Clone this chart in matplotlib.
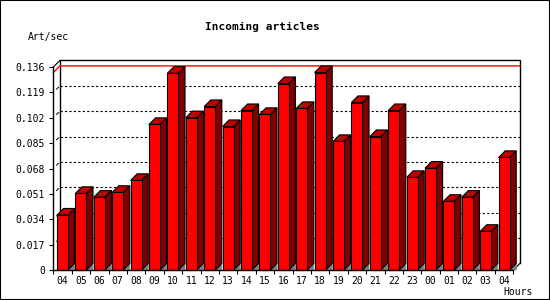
import matplotlib
matplotlib.use("Agg")
import matplotlib.pyplot as plt
from matplotlib.patches import Polygon, Rectangle

hours = ["04", "05", "06", "07", "08", "09", "10", "11", "12", "13", "14", "15",
         "16", "17", "18", "19", "20", "21", "22", "23", "00", "01", "02", "03", "04"]
values = [0.0368, 0.0513, 0.0488, 0.0520, 0.0600, 0.0975, 0.1318, 0.1020, 0.1095,
          0.0961, 0.1068, 0.1042, 0.1249, 0.1082, 0.1323, 0.0861, 0.1122, 0.0894,
          0.1068, 0.0620, 0.0682, 0.0460, 0.0488, 0.0259, 0.0754]
yticks = [0, 0.017, 0.034, 0.051, 0.068, 0.085, 0.102, 0.119, 0.136]
ytick_labels = ["0", "0.017", "0.034", "0.051", "0.068", "0.085", "0.102", "0.119", "0.136"]
title = "Incoming articles"
ylabel = "Art/sec"
xlabel = "Hours"

FONT = "DejaVu Sans Mono"
W, H = 550, 300
fig = plt.figure(figsize=(W / 100, H / 100), dpi=100)
fig.patch.set_facecolor("white")

# front plotting area in pixels
L, R, T, B = 53.3, 513.3, 67.0, 270.0
ax = fig.add_axes([L / W, 1 - B / H, (R - L) / W, (B - T) / H])
ax.set_facecolor("none")
n = len(values)
ymax = yticks[-1]
ax.set_xlim(-0.5, n - 0.5)
ax.set_ylim(0, ymax)

DEPTH = 6.6
DX = DEPTH / ((R - L) / n)
DY = DEPTH * ymax / (B - T)
BW = 0.6

# back plane grid (dotted)
for t in yticks[1:-1]:
    ax.plot([-0.5 + DX, n - 0.5 + DX], [t + DY, t + DY], color="black",
            lw=0.8, linestyle=(0, (2, 2)), clip_on=False, zorder=1)
    # short tick connectors
    ax.plot([-0.5 + DX * 0.5, -0.5 + DX * 0.8], [t + DY * 0.5, t + DY * 0.8],
            color="black", lw=0.7, clip_on=False, zorder=1)
# back frame
ax.plot([-0.5 + DX, -0.5 + DX, n - 0.5 + DX, n - 0.5 + DX],
        [DY, ymax + DY, ymax + DY, DY], color="black", lw=1.0, clip_on=False, zorder=1)
ax.plot([-0.5, -0.5 + DX], [ymax, ymax + DY], color="black", lw=0.8, clip_on=False, zorder=1)
ax.plot([n - 0.5, n - 0.5 + DX], [0, DY], color="black", lw=0.8, clip_on=False, zorder=1)
# max line
vmax = max(values)
ax.plot([-0.5, -0.5 + DX, n - 0.5 + DX], [vmax, vmax + DY, vmax + DY],
        color="#ff0000", lw=1.0, clip_on=False, zorder=1.5)

# floor triangle beyond last bar region handled per bar
for i, v in enumerate(values):
    x0, x1 = i - BW / 2, i + BW / 2
    ec = dict(edgecolor="black", linewidth=0.8, clip_on=False, zorder=3 + i * 0.01)
    ax.add_patch(Polygon([(x1, 0), (x1 + DX, DY), (x1 + DX, 0)], closed=True,
                         facecolor="#808080", edgecolor="#808080", linewidth=0.5,
                         clip_on=False, zorder=2.5))
    ax.add_patch(Polygon([(x1, 0), (x1 + DX, DY), (x1 + DX, v + DY), (x1, v)],
                         closed=True, facecolor="#800000", **ec))
    ax.add_patch(Polygon([(x0, v), (x0 + DX, v + DY), (x1 + DX, v + DY), (x1, v)],
                         closed=True, facecolor="#c00000", **ec))
    ax.add_patch(Rectangle((x0, 0), BW, v, facecolor="#ff0000", **ec))

# axes styling
for s in ["top", "right"]:
    ax.spines[s].set_visible(False)
for s in ["left", "bottom"]:
    ax.spines[s].set_linewidth(1.0)
    ax.spines[s].set_zorder(10)
ax.set_yticks(yticks)
ax.set_yticklabels(ytick_labels, fontfamily=FONT, fontsize=7)
ax.tick_params(axis="y", direction="out", length=3, width=0.8, pad=3)
ax.set_xticks(range(n))
ax.set_xticklabels(hours, fontfamily=FONT, fontsize=7)
ax.tick_params(axis="x", which="major", length=0, pad=4)
ax.set_xticks([i - 0.5 for i in range(n + 1)], minor=True)
ax.tick_params(axis="x", which="minor", direction="out", length=3, width=0.8)

fig.text(262 / W, 1 - 27 / H, title, ha="center", va="center",
         fontfamily=FONT, fontsize=8, fontweight="bold")
fig.text(28 / W, 1 - 37 / H, ylabel, ha="left", va="center", fontfamily=FONT, fontsize=7)
fig.text(533 / W, 1 - 292 / H, xlabel, ha="right", va="center", fontfamily=FONT, fontsize=7)

fig.patches.append(Rectangle((0, 0), 1, 1, transform=fig.transFigure, fill=False,
                             edgecolor="black", linewidth=1.5, zorder=100))

fig.savefig("out.png", dpi=100)
